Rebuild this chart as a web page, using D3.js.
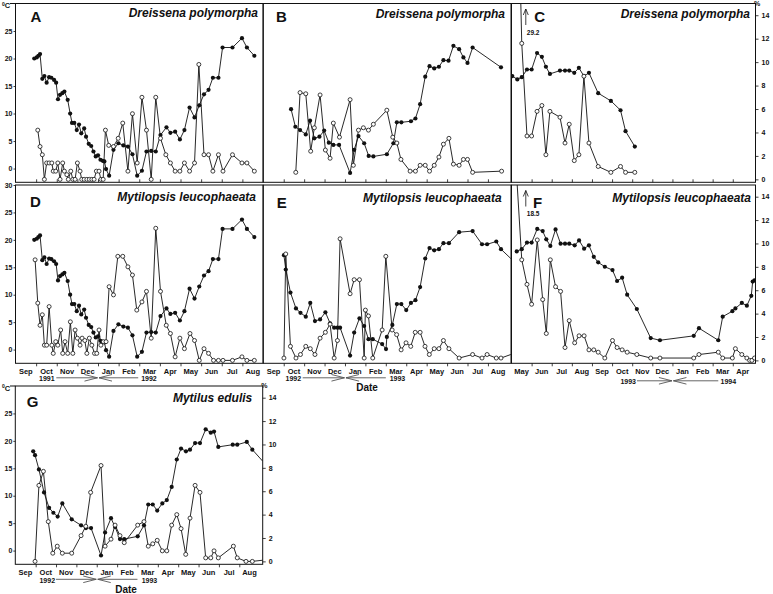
<!DOCTYPE html>
<html>
<head>
<meta charset="utf-8">
<script src="https://cdnjs.cloudflare.com/ajax/libs/d3/7.8.5/d3.min.js"></script>
<style>
  body { margin: 0; background: #fff; }
  svg { display: block; font-family: "Liberation Sans", Arial, sans-serif; }
</style>
</head>
<body>
<svg width="773" height="594"></svg>
<script>
// month labels
const monthsSep = ["Sep","Oct","Nov","Dec","Jan","Feb","Mar","Apr","May","Jun","Jul","Aug"];
const monthsMay = ["May","Jun","Jul","Aug","Sep","Oct","Nov","Dec","Jan","Feb","Mar","Apr"];
const tempTicks = [0, 5, 10, 15, 20, 25];
const pctTicks = [0, 2, 4, 6, 8, 10, 12, 14];

// [months since start of panel, value]; filled = water temp (°C), open = % (right axis)
const temp9192 = [[0.91,20.0],[1.03,20.2],[1.11,20.5],[1.19,20.8],[1.30,16.3],[1.40,16.8],[1.51,15.6],[1.63,16.6],[1.74,16.5],[1.87,16.1],[1.97,15.6],[2.06,12.6],[2.16,13.4],[2.27,13.7],[2.37,14.0],[2.53,12.5],[2.65,10.0],[2.74,8.3],[2.85,8.3],[2.97,7.0],[3.08,8.0],[3.19,6.4],[3.33,7.3],[3.42,5.8],[3.55,4.5],[3.67,4.1],[3.78,3.1],[3.89,2.2],[4.00,2.4],[4.12,1.6],[4.23,1.4],[4.31,1.3],[4.39,-0.1],[4.54,-1.3],[4.75,3.4],[4.99,4.6],[5.23,4.2],[5.45,4.0],[5.67,2.6],[5.90,-1.3],[6.13,-0.4],[6.35,3.1],[6.58,3.2],[6.80,3.1],[7.03,6.1],[7.32,7.5],[7.51,6.5],[7.74,6.7],[7.97,5.3],[8.19,7.0],[8.44,11.1],[8.68,9.3],[8.91,11.5],[9.14,13.5],[9.36,14.3],[9.57,16.5],[9.84,16.5],[10.04,22.0],[10.52,22.0],[10.98,23.7],[11.22,22.0],[11.58,20.5]];
const dreissena9192 = [[1.08,4.2],[1.19,2.8],[1.30,2.1],[1.40,0],[1.51,1.4],[1.63,1.4],[1.76,1.4],[1.83,0.7],[1.95,0.7],[2.05,1.4],[2.16,0],[2.29,1.4],[2.37,0.7],[2.49,0.4],[2.56,0],[2.68,0.7],[2.78,0],[2.89,0],[3.00,1.4],[3.13,0.7],[3.21,0],[3.33,0],[3.46,0],[3.58,0],[3.70,0],[3.81,0],[3.92,0.7],[4.05,0.7],[4.14,0],[4.25,0],[4.36,4.2],[4.52,2.9],[4.75,2.8],[4.98,3.5],[5.20,4.8],[5.45,0.7],[5.67,5.6],[5.90,1.4],[6.13,7.0],[6.35,4.2],[6.58,0],[6.80,7.0],[7.03,3.5],[7.29,2.1],[7.51,1.4],[7.74,0.7],[7.97,0.7],[8.19,1.4],[8.44,0.7],[8.68,1.4],[8.89,9.8],[9.14,2.1],[9.36,2.1],[9.57,0.7],[9.84,2.1],[10.06,0.7],[10.52,2.1],[10.98,1.4],[11.22,1.4],[11.58,0.7]];
const mytilopsis9192 = [[0.95,8.6],[1.08,4.9],[1.19,3.0],[1.30,3.9],[1.40,1.3],[1.51,1.3],[1.63,4.6],[1.76,1.3],[1.83,0.6],[1.95,1.6],[2.05,1.3],[2.19,2.6],[2.29,0.6],[2.40,1.6],[2.53,0.6],[2.66,3.3],[2.78,0.6],[2.89,2.6],[3.00,1.9],[3.13,1.3],[3.23,1.9],[3.36,1.7],[3.46,0.6],[3.58,1.9],[3.70,1.3],[3.83,0.6],[3.94,0.6],[4.05,2.6],[4.14,1.3],[4.26,1.6],[4.39,1.6],[4.54,6.3],[4.75,5.6],[4.96,8.9],[5.20,8.9],[5.45,8.0],[5.67,7.3],[5.88,4.3],[6.13,5.0],[6.35,5.9],[6.58,1.9],[6.80,11.3],[7.03,5.9],[7.31,3.0],[7.51,2.3],[7.74,0.3],[7.97,1.9],[8.19,1.0],[8.46,2.3],[8.68,1.7],[8.91,0],[9.14,1.0],[9.36,0.6],[9.60,0],[9.84,0],[10.06,0],[10.52,0],[10.98,0.3],[11.22,0],[11.58,0]];

const tempB = [[1.36,10.8],[1.57,7.6],[1.80,7.0],[2.08,6.2],[2.29,8.7],[2.50,5.5],[2.75,5.8],[2.98,6.9],[3.21,4.7],[3.43,4.3],[3.71,4.3],[4.25,-0.8],[4.45,3.4],[4.66,5.9],[4.94,4.6],[5.16,2.3],[5.39,2.2],[6.05,2.6],[6.37,4.6],[6.54,8.4],[6.76,8.4],[7.23,8.6],[7.45,9.1],[7.68,11.7],[7.93,16.7],[8.14,18.6],[8.37,18.2],[8.60,18.5],[8.82,19.7],[9.07,19.6],[9.31,22.3],[9.59,21.7],[9.80,20.2],[10.00,19.2],[10.25,22.0],[11.64,18.4]];
const dreissena9293 = [[1.59,0.6],[1.80,7.4],[2.08,7.3],[2.32,2.4],[2.50,4.4],[2.78,7.2],[3.04,2.5],[3.27,1.8],[3.43,4.8],[3.73,3.6],[4.25,6.8],[4.41,1.2],[4.66,4.2],[4.90,4.4],[5.15,4.2],[5.39,4.7],[6.05,5.9],[6.34,3.6],[6.54,3.1],[6.74,1.7],[7.19,0.7],[7.45,0.7],[7.68,1.2],[7.93,1.2],[8.14,0.7],[8.37,1.2],[8.60,1.9],[8.82,3.0],[9.09,3.5],[9.31,1.3],[9.59,1.2],[9.80,1.7],[10.00,1.7],[10.25,0.6],[11.67,0.7]];

const tempC = [[0.04,16.8],[0.29,16.2],[0.51,16.6],[0.77,18.0],[1.00,18.0],[1.27,21.0],[1.51,20.3],[1.71,18.5],[1.91,17.2],[2.41,17.8],[2.66,17.8],[2.87,17.8],[3.12,17.4],[3.35,18.3],[3.60,16.8],[3.85,17.4],[4.31,13.7],[4.94,12.3],[5.42,10.6],[5.67,6.8],[6.13,4.0]];
const dreissena9394 = [[0.27,29.2],[0.51,11.6],[0.77,3.7],[1.00,3.7],[1.27,5.8],[1.51,6.3],[1.71,2.1],[1.91,5.8],[2.41,5.3],[2.66,3.1],[2.87,4.7],[3.12,1.6],[3.35,2.1],[3.60,8.8],[3.85,3.1],[4.31,1.1],[4.94,0.6],[5.42,1.1],[5.67,0.6],[6.13,0.6]];

const tempE = [[1.01,17.2],[1.10,14.6],[1.33,10.4],[1.60,7.5],[1.82,6.7],[2.08,6.0],[2.30,8.5],[2.53,5.2],[2.78,5.5],[3.04,6.8],[3.27,4.8],[3.47,4.0],[3.63,4.0],[3.76,4.0],[4.25,-1.1],[4.45,3.1],[4.71,5.7],[4.94,4.3],[5.15,1.9],[5.36,1.9],[5.82,1.0],[6.01,0.1],[6.05,2.3],[6.32,4.5],[6.54,8.3],[6.76,8.3],[7.00,7.2],[7.23,8.5],[7.45,9.0],[7.68,11.4],[7.93,16.6],[8.14,18.5],[8.37,18.1],[8.60,18.3],[8.82,19.4],[9.09,19.4],[9.59,21.4],[10.25,21.6],[10.71,19.2],[10.96,19.2],[11.41,19.7],[11.64,18.3],[12.12,16.6]];
const mytilopsis9293 = [[1.01,0.2],[1.10,9.1],[1.33,1.2],[1.60,0.2],[1.82,0.5],[2.08,1.2],[2.30,1.0],[2.53,0.5],[2.78,1.9],[3.04,2.4],[3.27,3.1],[3.47,0.2],[3.63,1.7],[3.76,10.4],[4.25,5.7],[4.45,6.9],[4.71,6.9],[4.94,0.2],[5.00,4.3],[5.15,3.8],[5.36,0.2],[5.82,2.6],[6.00,8.9],[6.31,2.6],[6.53,2.2],[6.75,0.9],[6.99,1.5],[7.22,1.2],[7.44,2.4],[7.68,2.4],[7.92,1.2],[8.13,0.5],[8.37,1.0],[8.60,1.0],[8.82,1.7],[9.09,1.0],[9.59,0.2],[10.25,0.5],[10.71,0.2],[10.96,0.5],[11.41,0.2],[11.64,0.2],[12.12,0.5]];

const tempF = [[0.26,17.9],[0.51,18.3],[0.77,19.5],[1.00,19.5],[1.28,22.0],[1.55,21.6],[1.73,20.1],[1.93,18.9],[2.19,21.9],[2.44,19.3],[2.66,19.3],[2.87,19.3],[3.14,19.0],[3.36,19.9],[3.61,18.4],[3.85,19.0],[4.09,16.9],[4.31,15.9],[4.64,15.1],[5.02,14.5],[5.25,12.5],[5.50,13.1],[5.75,10.0],[6.23,7.4],[6.92,2.1],[7.38,1.7],[9.06,2.5],[9.32,3.9],[10.28,1.7],[10.50,6.0],[10.98,7.0],[11.13,7.5],[11.45,8.5],[11.70,8.0],[11.92,9.8],[11.99,12.4],[12.08,12.6]];
const mytilopsis9394 = [[0.16,18.5],[0.51,8.6],[0.77,6.5],[1.00,4.8],[1.28,10.3],[1.55,5.2],[1.73,2.3],[1.93,8.6],[2.19,6.3],[2.44,5.9],[2.66,1.1],[2.87,3.4],[3.14,1.5],[3.36,2.1],[3.61,2.1],[3.85,0.9],[4.09,0.9],[4.31,0.7],[4.64,0.2],[5.02,1.7],[5.25,1.1],[5.50,0.9],[5.75,0.7],[6.23,0.5],[6.92,0.2],[7.38,0.2],[9.06,0.2],[9.32,0.5],[10.28,0.7],[10.50,0.2],[10.98,0.2],[11.13,1.0],[11.45,0.5],[11.70,0.2],[11.84,0.0],[11.95,0.0],[12.08,0.2]];

const tempG = [[0.88,18.1],[0.97,17.4],[1.16,14.8],[1.41,10.6],[1.66,7.8],[1.87,6.9],[2.08,6.2],[2.31,8.6],[2.77,5.7],[3.23,4.6],[3.47,4.1],[3.72,4.1],[4.21,-0.9],[4.41,3.3],[4.70,5.9],[4.90,4.3],[5.14,2.1],[5.35,2.1],[6.01,2.6],[6.32,4.6],[6.53,8.4],[6.75,8.4],[6.97,7.3],[7.22,8.6],[7.44,9.2],[7.68,11.6],[7.93,16.6],[8.14,18.6],[8.38,18.1],[8.58,18.4],[8.83,19.6],[9.07,19.6],[9.35,22.1],[9.60,21.5],[9.76,21.7],[9.97,18.9],[10.68,19.3],[10.90,19.3],[11.37,19.8],[11.64,18.4],[12.15,16.3]];
const mytilus9293 = [[0.97,0],[1.16,6.5],[1.38,7.7],[1.62,3.4],[1.84,0.7],[2.06,1.3],[2.31,0.7],[2.77,0.7],[3.23,2.2],[3.46,3.0],[3.70,5.9],[4.21,8.2],[4.41,1.3],[4.70,1.9],[4.90,3.1],[5.14,2.2],[5.35,1.6],[6.01,3.1],[6.32,3.4],[6.53,1.3],[6.75,1.5],[6.97,1.8],[7.22,0.9],[7.44,0.9],[7.68,3.1],[7.93,4.0],[8.14,2.8],[8.37,0.6],[8.58,3.7],[8.83,6.5],[9.07,5.9],[9.35,0.3],[9.60,0.3],[9.76,0.9],[9.97,0.3],[10.71,1.3],[10.90,0.3],[11.33,0],[11.64,0],[12.15,0.1]];

// layout
const cols = {
  c1: {x0: 15.5, x1: 263, span: 12},
  c2: {x0: 263.3, x1: 511, span: 12.13},
  c3: {x0: 511.5, x1: 755.5, span: 12.13},
  cg: {x0: 15.3, x1: 262.7, span: 12.15}
};
const rows = [{t: 3.5, b: 182.3}, {t: 185, b: 363.3}, {t: 386, b: 564.3}];

// year arrows: label centres and arrow ends in months, Jan 1 at jan
const yearsSep = {l1: 1.52, a1: 1.98, a2: 5.95, l2: 6.47};
const yearsMay = {l1: 5.8, a1: 6.24, a2: 10.28, l2: 10.78};

const panels = [
  {letter:"A", species:"Dreissena polymorpha", col:"c1", row:0, temp:temp9192, pct:dreissena9192, months:monthsSep, lx:15, ly:18.3, sx:5, sy:13.5, left:tempTicks, unitTop:true},
  {letter:"B", species:"Dreissena polymorpha", col:"c2", row:0, temp:tempB, pct:dreissena9293, months:monthsSep, lx:12.7, ly:18.3, sx:6, sy:14.5},
  {letter:"C", species:"Dreissena polymorpha", col:"c3", row:0, temp:tempC, pct:dreissena9394, months:monthsMay, lx:22.8, ly:18.3, sx:5.5, sy:14.5, right:true, pctTop:true, offChart:true},
  {letter:"D", species:"Mytilopsis leucophaeata", col:"c1", row:1, temp:temp9192, pct:mytilopsis9192, months:monthsSep, lx:14.5, ly:21.7, sx:7, sy:15.5, left:tempTicks.concat([30]), years:["1991","1992"], yp:yearsSep, yearY:14.5, jan:4},
  {letter:"E", species:"Mytilopsis leucophaeata", col:"c2", row:1, temp:tempE, pct:mytilopsis9293, months:monthsSep, lx:13.4, ly:23.3, sx:9.3, sy:16.5, years:["1992","1993"], yp:{l1: 1.47, a1: 1.93, a2: 6.0, l2: 6.57}, yearY:14.5, jan:4, date:true},
  {letter:"F", species:"Mytilopsis leucophaeata", col:"c3", row:1, temp:tempF, pct:mytilopsis9394, months:monthsMay, lx:21.5, ly:23.3, sx:4.5, sy:16.5, right:true, offChart:true, years:["1993","1994"], yp:yearsMay, yearY:17.5, jan:8},
  {letter:"G", species:"Mytilus edulis", col:"cg", row:2, temp:tempG, pct:mytilus9293, months:monthsSep, lx:11.4, ly:20.7, sx:10.4, sy:16, left:tempTicks, right:true, unitTop:true, pctTop:true, years:["1992","1993"], yp:{l1: 1.57, a1: 2.0, a2: 6.0, l2: 6.59}, yearY:15, jan:4, date:true}
];

const svg = d3.select("svg");
const ink = "#111";

function styleAxis(sel, size) {
  sel.select(".domain").remove();
  sel.selectAll(".tick line").attr("stroke", ink).attr("stroke-width", 0.8);
  sel.selectAll(".tick text").attr("fill", ink).style("font-size", size + "px").style("font-weight", "bold")
    .style("font-family", "'Liberation Sans', Arial, sans-serif");
}

panels.forEach((p, i) => {
  const c = cols[p.col], r = rows[p.row];
  const x = d3.scaleLinear().domain([0, c.span]).range([c.x0, c.x1]);
  const yT = d3.scaleLinear().domain([-2.5, 30]).range([r.b, r.t]);
  const yP = d3.scaleLinear().domain([-0.25, 15]).range([r.b, r.t]);
  const g = svg.append("g");

  g.append("clipPath").attr("id", "clip" + i).append("rect")
    .attr("x", c.x0).attr("y", r.t).attr("width", c.x1 - c.x0).attr("height", r.b - r.t);
  const plot = g.append("g").attr("clip-path", `url(#clip${i})`);

  const lineT = d3.line().x(d => x(d[0])).y(d => yT(d[1]));
  const lineP = d3.line().x(d => x(d[0])).y(d => yP(d[1]));
  plot.append("path").attr("d", lineT(p.temp)).attr("fill", "none").attr("stroke", ink).attr("stroke-width", 0.9);
  plot.append("path").attr("d", lineP(p.pct)).attr("fill", "none").attr("stroke", ink).attr("stroke-width", 0.9);

  const visible = d => x(d[0]) < c.x1 - 0.5;
  plot.selectAll(".dotT").data(p.temp.filter(visible)).join("circle")
    .attr("cx", d => x(d[0])).attr("cy", d => yT(d[1])).attr("r", 2.1).attr("fill", ink);
  plot.selectAll(".dotP").data(p.pct.filter(visible)).join("circle")
    .attr("cx", d => x(d[0])).attr("cy", d => yP(d[1])).attr("r", 2.0)
    .attr("fill", "#fff").attr("stroke", ink).attr("stroke-width", 0.8);

  // frame
  g.append("rect").attr("x", c.x0).attr("y", r.t).attr("width", c.x1 - c.x0).attr("height", r.b - r.t)
    .attr("fill", "none").attr("stroke", ink).attr("stroke-width", 1);

  // bottom axis
  const ticks = d3.range(1, 12);
  if (p.row === 0) {
    const ax = g.append("g").attr("transform", `translate(0,${r.b})`)
      .call(d3.axisBottom(x).tickValues(ticks).tickSize(-3).tickFormat(""));
    styleAxis(ax, 7);
  } else {
    const ax = g.append("g").attr("transform", `translate(0,${r.b})`)
      .call(d3.axisBottom(x).tickValues(ticks).tickSize(3).tickFormat(""));
    styleAxis(ax, 7);
    g.selectAll(".mon").data(p.months).join("text")
      .attr("x", (d, k) => x(k + 0.5)).attr("y", r.b + 10.5)
      .attr("text-anchor", "middle").style("font-size", "7.5px").style("font-weight", "bold")
      .attr("fill", ink).text(d => d);
  }

  // year arrows
  if (p.years) {
    const ya = r.b + p.yearY, yl = ya + 3.2, s = p.yp;
    const tipR = x(p.jan) - 0.5, tipL = x(p.jan) + 1;
    g.append("text").attr("x", x(s.l1)).attr("y", yl).attr("text-anchor", "middle")
      .style("font-size", "7px").style("font-weight", "bold").attr("fill", ink).text(p.years[0]);
    g.append("text").attr("x", x(s.l2)).attr("y", yl).attr("text-anchor", "middle")
      .style("font-size", "7px").style("font-weight", "bold").attr("fill", ink).text(p.years[1]);
    const arrow = `M${x(s.a1)},${ya}H${tipR}M${tipR - 13},${ya - 3.3}L${tipR},${ya}L${tipR - 13},${ya + 3.3}` +
                  `M${x(s.a2)},${ya}H${tipL}M${tipL + 13},${ya - 3.3}L${tipL},${ya}L${tipL + 13},${ya + 3.3}`;
    g.append("path").attr("d", arrow).attr("fill", "none").attr("stroke", "#555").attr("stroke-width", 0.9);
  }

  // left axis (°C)
  if (p.left) {
    const ax = g.append("g").attr("transform", `translate(${c.x0},0)`)
      .call(d3.axisLeft(yT).tickValues(p.left).tickSize(2).tickPadding(1));
    styleAxis(ax, 7);
  }
  if (p.unitTop) {
    const u = g.append("text").attr("x", 2).attr("y", r.t + 4.5).style("font-size", "7.5px")
      .style("font-weight", "bold").attr("fill", ink);
    u.append("tspan").attr("dy", -2.5).style("font-size", "5px").text("0");
    u.append("tspan").attr("dy", 2.5).text("C");
    g.append("line").attr("x1", 10).attr("x2", c.x0).attr("y1", r.t).attr("y2", r.t)
      .attr("stroke", ink).attr("stroke-width", 1);
  }

  // right axis (%)
  if (p.right) {
    const ax = g.append("g").attr("transform", `translate(${c.x1},0)`)
      .call(d3.axisRight(yP).tickValues(pctTicks).tickSize(3).tickPadding(3));
    styleAxis(ax, 7);
  }
  if (p.pctTop) {
    g.append("text").attr("x", c.x1 - 1.5).attr("y", r.t + 2).style("font-size", "7px")
      .style("font-weight", "bold").attr("fill", ink).text("%");
  }

  // off-chart first value
  if (p.offChart) {
    const ax = x(0.71), top = r.t + 5.5, bot = r.t + 21.5;
    g.append("path").attr("d", `M${ax},${bot}V${top}M${ax - 2.5},${top + 6}L${ax},${top}L${ax + 2.5},${top + 6}`)
      .attr("fill", "none").attr("stroke", ink).attr("stroke-width", 0.8);
    g.append("text").attr("x", ax + 1).attr("y", r.t + 31).style("font-size", "6.5px")
      .style("font-weight", "bold").attr("fill", ink).text(p.pct[0][1].toFixed(1));
  }

  // panel letter and species
  g.append("text").attr("x", c.x0 + p.lx).attr("y", r.t + p.ly)
    .style("font-size", "15px").style("font-weight", "bold").attr("fill", ink).text(p.letter);
  g.append("text").attr("x", c.x1 - p.sx).attr("y", r.t + p.sy).attr("text-anchor", "end")
    .style("font-size", "12px").style("font-weight", "bold").style("font-style", "italic")
    .attr("fill", ink).text(p.species);

  if (p.date) {
    g.append("text").attr("x", p.row === 2 ? 126 : 367).attr("y", r.b + (p.row === 2 ? 28.7 : 28))
      .attr("text-anchor", "middle").style("font-size", "10px").style("font-weight", "bold")
      .attr("fill", ink).text("Date");
  }
});
</script>
</body>
</html>
